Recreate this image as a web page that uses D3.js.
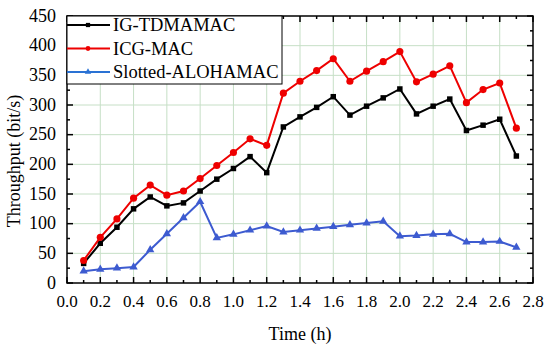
<!DOCTYPE html>
<html>
  <head>
    <meta charset="utf-8">
    <title>Throughput vs Time</title>
    <script src="https://d3js.org/d3.v7.min.js"></script>
    <style>
      body { margin: 0; background: #fff; }
    </style>
  </head>
  <body>
    <div id="chart"></div>
    <script>
      // Data
      var times = [0.1, 0.2, 0.3, 0.4, 0.5, 0.6, 0.7, 0.8, 0.9, 1.0, 1.1, 1.2, 1.3, 1.4,
                   1.5, 1.6, 1.7, 1.8, 1.9, 2.0, 2.1, 2.2, 2.3, 2.4, 2.5, 2.6, 2.7];
      var igTdma = [33, 67, 94, 125, 145, 130, 135, 155, 175, 193, 213, 186, 263, 280,
                    296, 314, 283, 298, 312, 327, 285, 298, 310, 257, 266, 276, 214];
      var icgMac = [38, 77, 108, 143, 165, 148, 155, 176, 198, 220, 243, 232, 320, 340,
                    358, 378, 340, 357, 373, 390, 339, 352, 366, 304, 326, 337, 261];
      var aloha = [20, 23, 25, 27, 56, 83, 110, 137, 76, 82, 89, 96, 86, 89,
                   92, 95, 98, 101, 104, 79, 80, 82, 83, 69, 69, 70, 60];
      var xTicks = d3.range(0, 2.81, 0.2);
      var yTicks = d3.range(0, 451, 50);
      var seriesNames = ["IG-TDMAMAC", "ICG-MAC", "Slotted-ALOHAMAC"];

      var width = 550, height = 348;
      var margin = {left: 67, right: 17, top: 16, bottom: 65};
      var svg = d3.select("#chart").append("svg")
          .attr("width", width).attr("height", height)
          .attr("font-family", "'Liberation Serif', 'Times New Roman', serif");

      var x = d3.scaleLinear().domain([0, 2.8]).range([margin.left, width - margin.right]);
      var y = d3.scaleLinear().domain([0, 450]).range([height - margin.bottom, margin.top]);

      // grid
      svg.append("g").selectAll("line.gx").data(xTicks.slice(1, -1)).enter().append("line")
         .attr("x1", d => x(d)).attr("x2", d => x(d))
         .attr("y1", y(0)).attr("y2", y(450))
         .style("stroke", "#c6dfc6").style("stroke-width", 1);
      svg.append("g").selectAll("line.gy").data(yTicks.slice(1, -1)).enter().append("line")
         .attr("y1", d => y(d)).attr("y2", d => y(d))
         .attr("x1", x(0)).attr("x2", x(2.8))
         .style("stroke", "#c6dfc6").style("stroke-width", 1);

      // axes with inward ticks on all four sides
      var xMinor = d3.range(0.1, 2.8, 0.2);
      var yMinor = d3.range(25, 450, 50);
      function tickLines(g, vals, len, horiz, base, dir) {
        g.selectAll(null).data(vals).enter().append("line")
         .attr(horiz ? "x1" : "y1", d => horiz ? x(d) : y(d))
         .attr(horiz ? "x2" : "y2", d => horiz ? x(d) : y(d))
         .attr(horiz ? "y1" : "x1", base)
         .attr(horiz ? "y2" : "x2", base + dir * len)
         .style("stroke", "#000").style("stroke-width", 1.5);
      }
      var tg = svg.append("g");
      tickLines(tg, xTicks, 6, true, y(0), -1);
      tickLines(tg, xMinor, 3, true, y(0), -1);
      tickLines(tg, xTicks, 6, true, y(450), 1);
      tickLines(tg, xMinor, 3, true, y(450), 1);
      tickLines(tg, yTicks, 6, false, x(0), 1);
      tickLines(tg, yMinor, 3, false, x(0), 1);
      tickLines(tg, yTicks, 6, false, x(2.8), -1);
      tickLines(tg, yMinor, 3, false, x(2.8), -1);

      svg.append("rect")
         .attr("x", x(0)).attr("y", y(450))
         .attr("width", x(2.8) - x(0)).attr("height", y(0) - y(450))
         .style("fill", "none").style("stroke", "#000").style("stroke-width", 1.5);

      svg.append("g").selectAll("text").data(xTicks).enter().append("text")
         .attr("x", d => x(d)).attr("y", y(0) + 24)
         .attr("text-anchor", "middle").style("font-size", "17px")
         .text(d => d.toFixed(1));
      svg.append("g").selectAll("text").data(yTicks).enter().append("text")
         .attr("x", x(0) - 11).attr("y", d => y(d) + 5.5)
         .attr("text-anchor", "end").style("font-size", "18px")
         .text(d => d);

      svg.append("text").attr("x", (x(0) + x(2.8)) / 2).attr("y", 340)
         .attr("text-anchor", "middle").style("font-size", "18px").text("Time (h)");
      svg.append("text")
         .attr("transform", "translate(20,161) rotate(-90)")
         .attr("text-anchor", "middle").style("font-size", "18px").text("Throughput (bit/s)");

      // series
      var series = [
        {name: seriesNames[0], values: igTdma, color: "#000000", shape: d3.symbolSquare, size: 30},
        {name: seriesNames[1], values: icgMac, color: "#ee0000", shape: d3.symbolCircle, size: 40},
        {name: seriesNames[2], values: aloha, color: "#3d5bd0", shape: d3.symbolTriangle, size: 30}
      ];
      var line = d3.line().x(d => x(d[0])).y(d => y(d[1]));
      series.forEach(function (s) {
        var pts = times.map((t, i) => [t, s.values[i]]);
        svg.append("path").datum(pts).attr("d", line)
           .style("fill", "none").style("stroke", s.color).style("stroke-width", 2);
        svg.append("g").selectAll("path").data(pts).enter().append("path")
           .attr("d", d3.symbol().type(s.shape).size(s.size))
           .attr("transform", d => "translate(" + x(d[0]) + "," + y(d[1]) + ")")
           .style("fill", s.color);
      });

      // legend
      var lg = svg.append("g");
      lg.append("rect").attr("x", x(0)).attr("y", y(450))
        .attr("width", 215).attr("height", 68)
        .style("fill", "#fff").style("stroke", "#000").style("stroke-width", 1);
      series.forEach(function (s, i) {
        var ly = 25 + i * 23.5;
        lg.append("line").attr("x1", x(0)).attr("x2", x(0) + 43)
          .attr("y1", ly).attr("y2", ly)
          .style("stroke", i === 2 ? "#2a72d4" : s.color).style("stroke-width", 2);
        lg.append("path").attr("d", d3.symbol().type(s.shape).size(18))
          .attr("transform", "translate(" + (x(0) + 21) + "," + ly + ")")
          .style("fill", i === 2 ? "#2a72d4" : s.color);
        lg.append("text").attr("x", x(0) + 46).attr("y", ly + 6)
          .style("font-size", "18.5px").text(s.name);
      });
    </script>
  </body>
</html>
